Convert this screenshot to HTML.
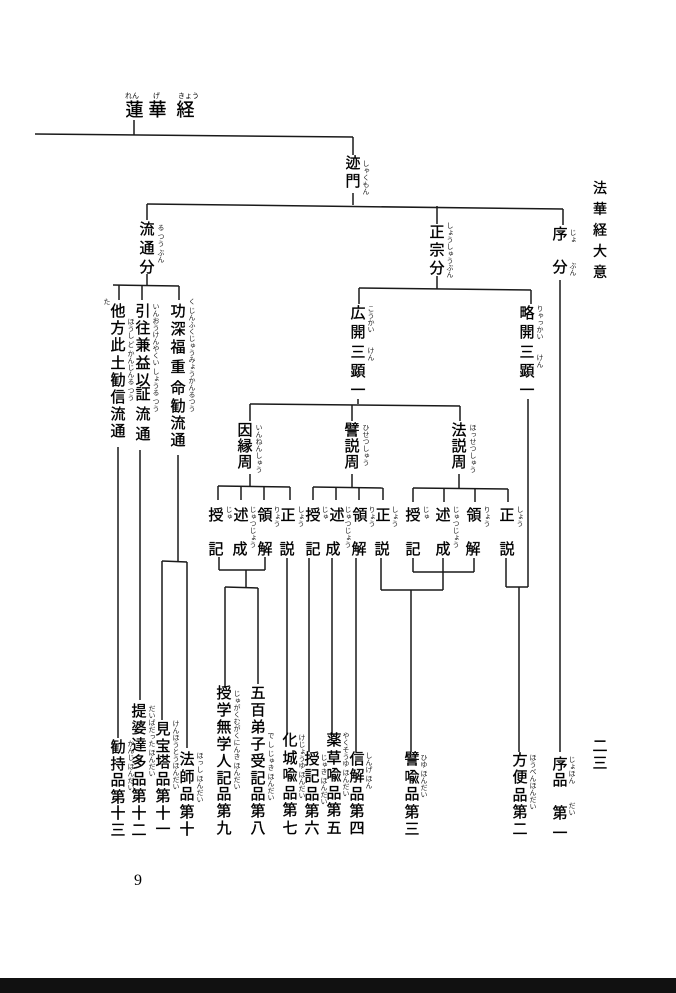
<!DOCTYPE html>
<html><head><meta charset="utf-8">
<style>
html,body{margin:0;padding:0;background:#fff;}
body{width:676px;height:993px;position:relative;overflow:hidden;font-family:"Liberation Sans","Noto Sans CJK JP",sans-serif;color:#000;}
.c{position:absolute;width:16px;font-size:15px;text-align:center;word-break:break-all;-webkit-text-stroke:0.35px #000;}
.f{position:absolute;writing-mode:vertical-rl;font-size:7px;line-height:7px;color:#222;}
svg{position:absolute;left:0;top:0;}
</style></head><body>
<svg width="676" height="993" stroke="#1a1a1a" stroke-width="1.5" fill="none">
<line x1="134" y1="120" x2="134" y2="135"/>
<line x1="35" y1="134" x2="353" y2="137"/>
<line x1="353" y1="137" x2="353" y2="155"/>
<line x1="353" y1="193" x2="353" y2="205"/>
<line x1="147" y1="204" x2="563" y2="209"/>
<line x1="147" y1="204" x2="147" y2="220"/>
<line x1="437" y1="206" x2="437" y2="224"/>
<line x1="563" y1="209" x2="563" y2="225"/>
<line x1="147" y1="274" x2="147" y2="285"/>
<line x1="113" y1="285" x2="179" y2="286"/>
<line x1="119" y1="285" x2="119" y2="300"/>
<line x1="142" y1="285" x2="142" y2="300"/>
<line x1="179" y1="286" x2="179" y2="300"/>
<line x1="118" y1="447" x2="118" y2="738"/>
<line x1="140" y1="450" x2="140" y2="700"/>
<line x1="178" y1="455" x2="178" y2="561"/>
<line x1="162" y1="561" x2="187" y2="562"/>
<line x1="162" y1="561" x2="162" y2="720"/>
<line x1="187" y1="562" x2="187" y2="748"/>
<line x1="437" y1="276" x2="437" y2="289"/>
<line x1="359" y1="288" x2="531" y2="290"/>
<line x1="359" y1="288" x2="359" y2="304"/>
<line x1="531" y1="290" x2="531" y2="304"/>
<line x1="358" y1="399" x2="358" y2="404"/>
<line x1="250" y1="404" x2="460" y2="406"/>
<line x1="250" y1="404" x2="250" y2="421"/>
<line x1="352" y1="405" x2="352" y2="421"/>
<line x1="460" y1="406" x2="460" y2="421"/>
<line x1="250" y1="474" x2="250" y2="486"/>
<line x1="352" y1="474" x2="352" y2="487"/>
<line x1="459" y1="474" x2="459" y2="488"/>
<line x1="218" y1="486" x2="290" y2="487"/>
<line x1="218" y1="486" x2="218" y2="500"/><line x1="241" y1="486" x2="241" y2="500"/><line x1="264" y1="487" x2="264" y2="500"/><line x1="290" y1="487" x2="290" y2="500"/>
<line x1="313" y1="487" x2="383" y2="488"/>
<line x1="313" y1="487" x2="313" y2="500"/><line x1="336" y1="487" x2="336" y2="500"/><line x1="359" y1="488" x2="359" y2="500"/><line x1="383" y1="488" x2="383" y2="500"/>
<line x1="413" y1="488" x2="508" y2="489"/>
<line x1="413" y1="488" x2="413" y2="502"/><line x1="444" y1="488" x2="444" y2="502"/><line x1="475" y1="489" x2="475" y2="502"/><line x1="508" y1="489" x2="508" y2="502"/>
<line x1="219" y1="557" x2="219" y2="570"/><line x1="265" y1="557" x2="265" y2="570"/>
<line x1="219" y1="570" x2="265" y2="570"/>
<line x1="246" y1="570" x2="246" y2="587"/>
<line x1="225" y1="587" x2="258" y2="588"/>
<line x1="225" y1="587" x2="225" y2="688"/>
<line x1="258" y1="588" x2="258" y2="684"/>
<line x1="287" y1="558" x2="287" y2="735"/>
<line x1="309" y1="558" x2="309" y2="752"/>
<line x1="332" y1="558" x2="332" y2="735"/>
<line x1="356" y1="558" x2="356" y2="752"/>
<line x1="381" y1="558" x2="381" y2="590"/>
<line x1="381" y1="590" x2="443" y2="590"/>
<line x1="413" y1="558" x2="413" y2="572"/><line x1="474" y1="558" x2="474" y2="572"/>
<line x1="413" y1="572" x2="474" y2="572"/>
<line x1="443" y1="558" x2="443" y2="590"/>
<line x1="411" y1="590" x2="411" y2="752"/>
<line x1="506" y1="558" x2="506" y2="587"/>
<line x1="506" y1="587" x2="528" y2="587"/>
<line x1="528" y1="399" x2="528" y2="587"/>
<line x1="519" y1="587" x2="519" y2="752"/>
<line x1="560" y1="280" x2="560" y2="752"/>
</svg>

<div class="c" style="left:125px;top:101px;line-height:19px;font-size:18px;width:19px">蓮</div>
<div class="c" style="left:148px;top:101px;line-height:19px;font-size:18px;width:19px">華</div>
<div class="c" style="left:176px;top:101px;line-height:19px;font-size:18px;width:19px">経</div>
<div style="position:absolute;left:125px;top:91px;font-size:7px">れん</div>
<div style="position:absolute;left:153px;top:91px;font-size:7px">げ</div>
<div style="position:absolute;left:178px;top:91px;font-size:7px">きょう</div>

<div class="c" style="left:345px;top:155px;line-height:18px">迹門</div>
<div class="f" style="left:362px;top:160px">しゃくもん</div>

<div class="c" style="left:592px;top:178px;line-height:21px;font-size:14px">法華経大意</div>

<div class="c" style="left:139px;top:220px;line-height:19px">流通分</div>
<div class="f" style="left:157px;top:224px">る つう ぶん</div>
<div class="c" style="left:429px;top:224px;line-height:18px">正宗分</div>
<div class="f" style="left:446px;top:222px">しょうしゅうぶん</div>
<div class="c" style="left:552px;top:226px;line-height:18px">序</div>
<div class="c" style="left:552px;top:259px;line-height:18px">分</div>
<div class="f" style="left:569px;top:229px">じょ</div>
<div class="f" style="left:569px;top:262px">ぶん</div>

<div class="c" style="left:110px;top:303px;line-height:17.2px">他方此土勧信流通</div>
<div class="f" style="left:103px;top:298px">た</div>
<div class="c" style="left:135px;top:303px;line-height:17.2px">引往兼益以</div>
<div class="c" style="left:135px;top:385px;line-height:20px">証流通</div>
<div class="f" style="left:152px;top:303px">いんおうけんやくい しょうる つう</div>
<div class="f" style="left:127px;top:318px">ほうし ど かんじんる つう</div>
<div class="c" style="left:170px;top:303px;line-height:17.8px">功深福</div>
<div class="c" style="left:170px;top:356px">重</div>
<div class="c" style="left:170px;top:377px">命</div>
<div class="c" style="left:170px;top:398px;line-height:17px">勧流通</div>
<div class="f" style="left:188px;top:298px">く じんふくじゅうみょうかんるつう</div>

<div class="c" style="left:350px;top:304px;line-height:19.3px">広開三顕一</div>
<div class="f" style="left:367px;top:305px">こうかい　　けん</div>
<div class="c" style="left:519px;top:304px;line-height:19.3px">略開三顕一</div>
<div class="f" style="left:536px;top:305px">りゃっかい　　けん</div>

<div class="c" style="left:237px;top:423px;line-height:16px">因縁周</div>
<div class="f" style="left:255px;top:424px">いんねんしゅう</div>
<div class="c" style="left:344px;top:423px;line-height:16px">譬説周</div>
<div class="f" style="left:362px;top:424px">ひせつしゅう</div>
<div class="c" style="left:451px;top:423px;line-height:16px">法説周</div>
<div class="f" style="left:469px;top:424px">ほっせつしゅう</div>

<div class="c" style="left:208px;top:504px">授</div><div class="c" style="left:208px;top:538px">記</div>
<div class="c" style="left:233px;top:504px">述</div><div class="c" style="left:232px;top:538px">成</div>
<div class="c" style="left:257px;top:504px">領</div><div class="c" style="left:257px;top:538px">解</div>
<div class="c" style="left:280px;top:504px">正</div><div class="c" style="left:279px;top:538px">説</div>
<div class="c" style="left:305px;top:504px">授</div><div class="c" style="left:305px;top:538px">記</div>
<div class="c" style="left:329px;top:504px">述</div><div class="c" style="left:325px;top:538px">成</div>
<div class="c" style="left:352px;top:504px">領</div><div class="c" style="left:351px;top:538px">解</div>
<div class="c" style="left:375px;top:504px">正</div><div class="c" style="left:374px;top:538px">説</div>
<div class="c" style="left:405px;top:504px">授</div><div class="c" style="left:405px;top:538px">記</div>
<div class="c" style="left:435px;top:504px">述</div><div class="c" style="left:435px;top:538px">成</div>
<div class="c" style="left:466px;top:504px">領</div><div class="c" style="left:465px;top:538px">解</div>
<div class="c" style="left:499px;top:504px">正</div><div class="c" style="left:499px;top:538px">説</div>
<div class="f" style="left:225px;top:506px">じゅ</div>
<div class="f" style="left:249px;top:506px">じゅつじょう</div>
<div class="f" style="left:273px;top:506px">りょう</div>
<div class="f" style="left:297px;top:506px">しょう</div>
<div class="f" style="left:321px;top:506px">じゅ</div>
<div class="f" style="left:344px;top:506px">じゅつじょう</div>
<div class="f" style="left:368px;top:506px">りょう</div>
<div class="f" style="left:391px;top:506px">しょう</div>
<div class="f" style="left:422px;top:506px">じゅ</div>
<div class="f" style="left:452px;top:506px">じゅつじょう</div>
<div class="f" style="left:483px;top:506px">りょう</div>
<div class="f" style="left:516px;top:506px">しょう</div>

<div class="c" style="left:110px;top:740px;line-height:16.5px">勧持品第十三</div>
<div class="f" style="left:127px;top:740px">かんじ ほんだい</div>
<div class="c" style="left:131px;top:703px;line-height:17px">提婆達多品第十二</div>
<div class="f" style="left:148px;top:705px">だいばだった ほんだい</div>
<div class="c" style="left:155px;top:722px;line-height:16.7px">見宝塔品第十一</div>
<div class="f" style="left:172px;top:720px">けんほうとうほんだい</div>
<div class="c" style="left:179px;top:751px;line-height:17.5px">法師品第十</div>
<div class="f" style="left:196px;top:752px">ほっし ほんだい</div>
<div class="c" style="left:216px;top:686px;line-height:16.9px">授学無学人記品第九</div>
<div class="f" style="left:233px;top:690px">じゅがくむがくにんき ほんだい</div>
<div class="c" style="left:250px;top:686px;line-height:16.9px">五百弟子受記品第八</div>
<div class="f" style="left:267px;top:732px">で し じゅき ほんだい</div>
<div class="c" style="left:282px;top:732px;line-height:17.6px">化城喩品第七</div>
<div class="f" style="left:298px;top:734px">けじょうゆ ほんだい</div>
<div class="c" style="left:304px;top:751px;line-height:17.3px">授記品第六</div>
<div class="f" style="left:320px;top:754px">じゅき ほんだい</div>
<div class="c" style="left:326px;top:732px;line-height:17.6px">薬草喩品第五</div>
<div class="f" style="left:342px;top:732px">やくそうゆ ほんだい</div>
<div class="c" style="left:349px;top:751px;line-height:17.3px">信解品第四</div>
<div class="f" style="left:365px;top:752px">しんげ ほん</div>
<div class="c" style="left:404px;top:751px;line-height:17.5px">譬喩品第三</div>
<div class="f" style="left:420px;top:754px">ひゆ ほんだい</div>
<div class="c" style="left:512px;top:752px;line-height:17.3px">方便品第二</div>
<div class="f" style="left:529px;top:754px">ほうべんほんだい</div>
<div class="c" style="left:552px;top:753px">序</div>
<div class="c" style="left:552px;top:769px">品</div>
<div class="c" style="left:552px;top:802px">第</div>
<div class="c" style="left:552px;top:822px">一</div>
<div class="f" style="left:568px;top:756px">じょほん</div>
<div class="f" style="left:568px;top:802px">だい</div>

<div class="c" style="left:592px;top:738px;line-height:17px">二三</div>

<div style="position:absolute;left:134px;top:872px;font-size:16px;font-family:'Liberation Serif',serif">9</div>
<div style="position:absolute;left:0;top:978px;width:676px;height:15px;background:#111"></div>
</body></html>
